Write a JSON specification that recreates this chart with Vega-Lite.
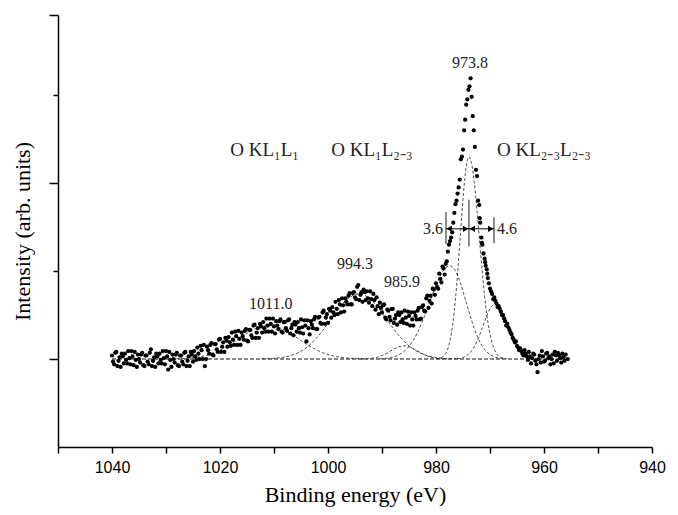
{
  "$schema": "https://vega.github.io/schema/vega-lite/v6.json",
  "width": 594,
  "height": 432,
  "autosize": {"type": "none"},
  "padding": {"left": 58, "top": 15, "right": 26, "bottom": 68},
  "background": "white",
  "config": {"view": {"stroke": null}},
  "datasets": {
    "pts": [
      {"e":1040.0,"v":0.04},{"e":1039.6,"v":-0.06},{"e":1039.2,"v":0.08},{"e":1038.8,"v":-0.02},{"e":1038.4,"v":-0.09},{"e":1038.0,"v":0.03},{"e":1037.6,"v":0.06},{"e":1037.2,"v":-0.05},{"e":1036.8,"v":0.01},{"e":1036.4,"v":0.09},{"e":1036.0,"v":-0.07},{"e":1035.6,"v":-0.01},{"e":1035.2,"v":0.05},{"e":1034.8,"v":-0.04},{"e":1034.4,"v":0.07},{"e":1034.0,"v":-0.08},{"e":1033.6,"v":0.04},{"e":1033.2,"v":-0.06},{"e":1032.8,"v":0.11},{"e":1032.4,"v":-0.02},{"e":1032.0,"v":-0.09},{"e":1031.6,"v":0.03},{"e":1031.2,"v":0.06},{"e":1030.8,"v":-0.05},{"e":1030.4,"v":0.01},{"e":1030.0,"v":0.09},{"e":1029.6,"v":-0.12},{"e":1029.2,"v":-0.01},{"e":1028.8,"v":0.05},{"e":1028.4,"v":-0.04},{"e":1028.0,"v":0.07},{"e":1027.6,"v":-0.08},{"e":1027.2,"v":0.04},{"e":1026.8,"v":-0.06},{"e":1026.4,"v":0.08},{"e":1026.0,"v":-0.02},{"e":1025.6,"v":-0.08},{"e":1025.2,"v":0.05},{"e":1024.8,"v":0.09},{"e":1024.4,"v":-0.01},{"e":1024.0,"v":0.06},{"e":1023.6,"v":0.15},{"e":1023.2,"v":0.0},{"e":1022.8,"v":-0.08},{"e":1022.4,"v":0.14},{"e":1022.0,"v":0.06},{"e":1021.6,"v":0.18},{"e":1021.2,"v":0.04},{"e":1020.8,"v":0.17},{"e":1020.4,"v":0.08},{"e":1020.0,"v":0.23},{"e":1019.6,"v":0.14},{"e":1019.2,"v":0.08},{"e":1018.8,"v":0.21},{"e":1018.4,"v":0.25},{"e":1018.0,"v":0.15},{"e":1017.6,"v":0.22},{"e":1017.2,"v":0.31},{"e":1016.8,"v":0.16},{"e":1016.4,"v":0.23},{"e":1016.0,"v":0.30},{"e":1015.6,"v":0.22},{"e":1015.2,"v":0.34},{"e":1014.8,"v":0.20},{"e":1014.4,"v":0.33},{"e":1014.0,"v":0.24},{"e":1013.6,"v":0.39},{"e":1013.2,"v":0.30},{"e":1012.8,"v":0.24},{"e":1012.4,"v":0.37},{"e":1012.0,"v":0.42},{"e":1011.6,"v":0.31},{"e":1011.2,"v":0.38},{"e":1010.8,"v":0.46},{"e":1010.4,"v":0.31},{"e":1010.0,"v":0.37},{"e":1009.6,"v":0.43},{"e":1009.2,"v":0.34},{"e":1008.8,"v":0.45},{"e":1008.4,"v":0.30},{"e":1008.0,"v":0.42},{"e":1007.6,"v":0.32},{"e":1007.2,"v":0.45},{"e":1006.8,"v":0.35},{"e":1006.4,"v":0.27},{"e":1006.0,"v":0.39},{"e":1005.6,"v":0.42},{"e":1005.2,"v":0.30},{"e":1004.8,"v":0.36},{"e":1004.4,"v":0.44},{"e":1004.0,"v":0.20},{"e":1003.6,"v":0.35},{"e":1003.2,"v":0.43},{"e":1002.8,"v":0.35},{"e":1002.4,"v":0.48},{"e":1002.0,"v":0.34},{"e":1001.6,"v":0.48},{"e":1001.2,"v":0.40},{"e":1000.8,"v":0.55},{"e":1000.4,"v":0.47},{"e":1000.0,"v":0.41},{"e":999.6,"v":0.55},{"e":999.2,"v":0.59},{"e":998.8,"v":0.50},{"e":998.4,"v":0.57},{"e":998.0,"v":0.67},{"e":997.6,"v":0.53},{"e":997.2,"v":0.61},{"e":996.8,"v":0.69},{"e":996.4,"v":0.62},{"e":996.0,"v":0.75},{"e":995.6,"v":0.62},{"e":995.2,"v":0.76},{"e":994.8,"v":0.68},{"e":994.4,"v":0.84},{"e":994.0,"v":0.73},{"e":993.6,"v":0.65},{"e":993.2,"v":0.76},{"e":992.8,"v":0.77},{"e":992.4,"v":0.64},{"e":992.0,"v":0.68},{"e":991.6,"v":0.74},{"e":991.2,"v":0.56},{"e":990.8,"v":0.60},{"e":990.4,"v":0.64},{"e":990.0,"v":0.53},{"e":989.6,"v":0.62},{"e":989.2,"v":0.45},{"e":988.8,"v":0.55},{"e":988.4,"v":0.44},{"e":988.0,"v":0.57},{"e":987.6,"v":0.46},{"e":987.2,"v":0.39},{"e":986.8,"v":0.50},{"e":986.4,"v":0.53},{"e":986.0,"v":0.41},{"e":985.6,"v":0.47},{"e":985.2,"v":0.54},{"e":984.8,"v":0.38},{"e":984.4,"v":0.45},{"e":984.0,"v":0.53},{"e":983.6,"v":0.45},{"e":983.2,"v":0.58},{"e":982.8,"v":0.46},{"e":982.4,"v":0.61},{"e":982.0,"v":0.54},{"e":981.6,"v":0.72},{"e":981.2,"v":0.66},{"e":980.8,"v":0.63},{"e":980.4,"v":0.79},{"e":980.0,"v":0.86},{"e":979.6,"v":0.80},{"e":979.2,"v":0.91},{"e":978.8,"v":1.05},{"e":978.4,"v":0.96},
      {"e":1039.8,"v":-0.03},{"e":1039.4,"v":0.07},{"e":1039.0,"v":-0.08},{"e":1038.6,"v":0.02},{"e":1038.2,"v":0.06},{"e":1037.8,"v":-0.05},{"e":1037.4,"v":-0.01},{"e":1037.0,"v":0.09},{"e":1036.6,"v":-0.06},{"e":1036.2,"v":0.03},{"e":1035.8,"v":0.08},{"e":1035.4,"v":-0.09},{"e":1035.0,"v":0.0},{"e":1034.6,"v":0.05},{"e":1034.2,"v":-0.07},{"e":1033.8,"v":0.04},{"e":1033.4,"v":-0.03},{"e":1033.0,"v":0.07},{"e":1032.6,"v":-0.08},{"e":1032.2,"v":0.02},{"e":1031.8,"v":0.06},{"e":1031.4,"v":-0.05},{"e":1031.0,"v":-0.01},{"e":1030.6,"v":0.09},{"e":1030.2,"v":-0.06},{"e":1029.8,"v":0.03},{"e":1029.4,"v":0.08},{"e":1029.0,"v":-0.09},{"e":1028.6,"v":0.0},{"e":1028.2,"v":0.05},{"e":1027.8,"v":-0.07},{"e":1027.4,"v":0.04},{"e":1027.0,"v":-0.03},{"e":1026.6,"v":0.07},{"e":1026.2,"v":-0.08},{"e":1025.8,"v":0.03},{"e":1025.4,"v":0.08},{"e":1025.0,"v":-0.03},{"e":1024.6,"v":0.03},{"e":1024.2,"v":0.13},{"e":1023.8,"v":0.0},{"e":1023.4,"v":0.10},{"e":1023.0,"v":0.16},{"e":1022.6,"v":0.0},{"e":1022.2,"v":0.10},{"e":1021.8,"v":0.16},{"e":1021.4,"v":0.05},{"e":1021.0,"v":0.17},{"e":1020.6,"v":0.11},{"e":1020.2,"v":0.22},{"e":1019.8,"v":0.08},{"e":1019.4,"v":0.19},{"e":1019.0,"v":0.24},{"e":1018.6,"v":0.14},{"e":1018.2,"v":0.19},{"e":1017.8,"v":0.30},{"e":1017.4,"v":0.16},{"e":1017.0,"v":0.26},{"e":1016.6,"v":0.32},{"e":1016.2,"v":0.16},{"e":1015.8,"v":0.26},{"e":1015.4,"v":0.32},{"e":1015.0,"v":0.21},{"e":1014.6,"v":0.33},{"e":1014.2,"v":0.27},{"e":1013.8,"v":0.38},{"e":1013.4,"v":0.24},{"e":1013.0,"v":0.35},{"e":1012.6,"v":0.40},{"e":1012.2,"v":0.30},{"e":1011.8,"v":0.35},{"e":1011.4,"v":0.46},{"e":1011.0,"v":0.31},{"e":1010.6,"v":0.40},{"e":1010.2,"v":0.46},{"e":1009.8,"v":0.29},{"e":1009.4,"v":0.38},{"e":1009.0,"v":0.43},{"e":1008.6,"v":0.31},{"e":1008.2,"v":0.42},{"e":1007.8,"v":0.35},{"e":1007.4,"v":0.44},{"e":1007.0,"v":0.29},{"e":1006.6,"v":0.39},{"e":1006.2,"v":0.42},{"e":1005.8,"v":0.31},{"e":1005.4,"v":0.35},{"e":1005.0,"v":0.45},{"e":1004.6,"v":0.29},{"e":1004.2,"v":0.38},{"e":1003.8,"v":0.44},{"e":1003.4,"v":0.28},{"e":1003.0,"v":0.39},{"e":1002.6,"v":0.45},{"e":1002.2,"v":0.34},{"e":1001.8,"v":0.47},{"e":1001.4,"v":0.41},{"e":1001.0,"v":0.53},{"e":1000.6,"v":0.40},{"e":1000.2,"v":0.51},{"e":999.8,"v":0.57},{"e":999.4,"v":0.47},{"e":999.0,"v":0.53},{"e":998.6,"v":0.65},{"e":998.2,"v":0.51},{"e":997.8,"v":0.62},{"e":997.4,"v":0.69},{"e":997.0,"v":0.54},{"e":996.6,"v":0.65},{"e":996.2,"v":0.72},{"e":995.8,"v":0.62},{"e":995.4,"v":0.75},{"e":995.0,"v":0.70},{"e":994.6,"v":0.82},{"e":994.2,"v":0.67},{"e":993.8,"v":0.76},{"e":993.4,"v":0.79},{"e":993.0,"v":0.67},{"e":992.6,"v":0.69},{"e":992.2,"v":0.77},{"e":991.8,"v":0.60},{"e":991.4,"v":0.67},{"e":991.0,"v":0.70},{"e":990.6,"v":0.51},{"e":990.2,"v":0.58},{"e":989.8,"v":0.61},{"e":989.4,"v":0.47},{"e":989.0,"v":0.56},{"e":988.6,"v":0.48},{"e":988.2,"v":0.57},{"e":987.8,"v":0.41},{"e":987.4,"v":0.50},{"e":987.0,"v":0.53},{"e":986.6,"v":0.42},{"e":986.2,"v":0.45},{"e":985.8,"v":0.55},{"e":985.4,"v":0.40},{"e":985.0,"v":0.49},{"e":984.6,"v":0.53},{"e":984.2,"v":0.38},{"e":983.8,"v":0.49},{"e":983.4,"v":0.55},{"e":983.0,"v":0.45},{"e":982.6,"v":0.59},{"e":982.2,"v":0.55},{"e":981.8,"v":0.69},{"e":981.4,"v":0.58},{"e":981.0,"v":0.72},{"e":980.6,"v":0.80},{"e":980.2,"v":0.73},{"e":979.8,"v":0.82},{"e":979.4,"v":0.97},{"e":979.0,"v":0.87},{"e":978.6,"v":1.03},
      {"e":978.2,"v":1.08},{"e":978.0,"v":1.11},{"e":977.8,"v":1.22},{"e":977.6,"v":1.30},{"e":977.4,"v":1.34},{"e":977.2,"v":1.38},{"e":977.0,"v":1.44},{"e":976.8,"v":1.55},{"e":976.6,"v":1.66},{"e":976.4,"v":1.76},{"e":976.2,"v":1.80},{"e":976.0,"v":1.88},{"e":975.8,"v":1.95},{"e":975.6,"v":2.04},{"e":975.4,"v":2.27},{"e":975.2,"v":2.30},{"e":975.0,"v":2.38},{"e":974.8,"v":2.60},{"e":974.6,"v":2.72},{"e":974.4,"v":2.89},{"e":974.2,"v":2.95},{"e":974.0,"v":3.06},{"e":973.8,"v":3.10},{"e":973.6,"v":3.19},{"e":973.4,"v":2.98},{"e":973.2,"v":2.76},{"e":973.0,"v":2.60},{"e":972.8,"v":2.41},{"e":972.6,"v":2.15},{"e":972.4,"v":2.08},{"e":972.2,"v":1.80},{"e":972.0,"v":1.75},{"e":971.8,"v":1.55},{"e":971.6,"v":1.38},{"e":971.4,"v":1.30},{"e":971.2,"v":1.20},{"e":971.0,"v":1.14},{"e":970.8,"v":1.06},{"e":970.6,"v":1.02},{"e":970.4,"v":0.92},{"e":970.2,"v":0.86},{"e":970.0,"v":0.80},
      {"e":971.9,"v":1.60},{"e":971.5,"v":1.32},{"e":970.9,"v":1.10},{"e":970.5,"v":0.97},{"e":969.8,"v":0.77},{"e":969.4,"v":0.68},{"e":969.0,"v":0.66},{"e":968.6,"v":0.59},{"e":968.2,"v":0.57},{"e":967.8,"v":0.50},{"e":967.4,"v":0.46},{"e":967.0,"v":0.38},{"e":966.6,"v":0.36},{"e":966.2,"v":0.30},{"e":965.8,"v":0.24},{"e":965.4,"v":0.19},{"e":965.0,"v":0.15},{"e":964.6,"v":0.10},{"e":964.2,"v":0.09},{"e":963.8,"v":0.04},{"e":963.4,"v":0.06},{"e":963.0,"v":-0.01},{"e":962.6,"v":0.03},{"e":962.2,"v":0.01},{"e":961.8,"v":0.05},{"e":961.4,"v":-0.06},{"e":961.0,"v":0.0},{"e":960.6,"v":-0.04},{"e":960.2,"v":0.03},{"e":959.8,"v":-0.02},{"e":959.4,"v":0.07},{"e":959.0,"v":0.03},{"e":958.6,"v":0.0},{"e":958.2,"v":-0.05},{"e":957.8,"v":0.04},{"e":957.4,"v":0.07},{"e":957.0,"v":0.01},{"e":956.6,"v":0.06},{"e":956.2,"v":-0.02},
      {"e":969.6,"v":0.74},{"e":969.2,"v":0.70},{"e":968.8,"v":0.63},{"e":968.4,"v":0.60},{"e":968.0,"v":0.54},{"e":967.6,"v":0.50},{"e":967.2,"v":0.43},{"e":966.8,"v":0.40},{"e":966.4,"v":0.33},{"e":966.0,"v":0.28},{"e":965.6,"v":0.22},{"e":965.2,"v":0.20},{"e":964.8,"v":0.13},{"e":964.4,"v":0.12},{"e":964.0,"v":0.06},{"e":963.6,"v":0.10},{"e":963.2,"v":0.03},{"e":962.8,"v":0.08},{"e":962.4,"v":-0.05},{"e":962.0,"v":0.06},{"e":961.6,"v":-0.02},{"e":961.2,"v":-0.15},{"e":960.8,"v":0.04},{"e":960.4,"v":0.09},{"e":960.0,"v":-0.03},{"e":959.6,"v":0.06},{"e":959.2,"v":0.01},{"e":958.8,"v":-0.06},{"e":958.4,"v":0.05},{"e":958.0,"v":0.08},{"e":957.6,"v":-0.02},{"e":957.2,"v":0.04},{"e":956.8,"v":-0.04},{"e":956.4,"v":0.02},{"e":956.0,"v":0.05},{"e":955.6,"v":0.0}
    ],
    "comp": [
      {"c":"base","e":1040,"v":0},{"c":"base","e":956,"v":0},
      {"c":"A","e":1029,"v":0.002},{"c":"A","e":1028,"v":0.003},{"c":"A","e":1027,"v":0.0055},{"c":"A","e":1026,"v":0.009},{"c":"A","e":1025,"v":0.015},{"c":"A","e":1024,"v":0.023},{"c":"A","e":1023,"v":0.035},{"c":"A","e":1022,"v":0.051},{"c":"A","e":1021,"v":0.073},{"c":"A","e":1020,"v":0.1},{"c":"A","e":1019,"v":0.132},{"c":"A","e":1018,"v":0.169},{"c":"A","e":1017,"v":0.21},{"c":"A","e":1016,"v":0.251},{"c":"A","e":1015,"v":0.292},{"c":"A","e":1014,"v":0.327},{"c":"A","e":1013,"v":0.356},{"c":"A","e":1012,"v":0.374},{"c":"A","e":1011,"v":0.38},{"c":"A","e":1010,"v":0.374},{"c":"A","e":1009,"v":0.356},{"c":"A","e":1008,"v":0.327},{"c":"A","e":1007,"v":0.292},{"c":"A","e":1006,"v":0.251},{"c":"A","e":1005,"v":0.21},{"c":"A","e":1004,"v":0.169},{"c":"A","e":1003,"v":0.132},{"c":"A","e":1002,"v":0.1},{"c":"A","e":1001,"v":0.073},{"c":"A","e":1000,"v":0.051},{"c":"A","e":999,"v":0.035},{"c":"A","e":998,"v":0.023},{"c":"A","e":997,"v":0.015},{"c":"A","e":996,"v":0.009},{"c":"A","e":995,"v":0.0055},{"c":"A","e":994,"v":0.003},{"c":"A","e":993,"v":0.002},
      {"c":"B","e":1012.3,"v":0.002},{"c":"B","e":1011.3,"v":0.004},{"c":"B","e":1010.3,"v":0.0065},{"c":"B","e":1009.3,"v":0.012},{"c":"B","e":1008.3,"v":0.02},{"c":"B","e":1007.3,"v":0.032},{"c":"B","e":1006.3,"v":0.052},{"c":"B","e":1005.3,"v":0.079},{"c":"B","e":1004.3,"v":0.116},{"c":"B","e":1003.3,"v":0.165},{"c":"B","e":1002.3,"v":0.227},{"c":"B","e":1001.3,"v":0.299},{"c":"B","e":1000.3,"v":0.38},{"c":"B","e":999.3,"v":0.466},{"c":"B","e":998.3,"v":0.55},{"c":"B","e":997.3,"v":0.627},{"c":"B","e":996.3,"v":0.687},{"c":"B","e":995.3,"v":0.726},{"c":"B","e":994.3,"v":0.74},{"c":"B","e":993.3,"v":0.726},{"c":"B","e":992.3,"v":0.687},{"c":"B","e":991.3,"v":0.627},{"c":"B","e":990.3,"v":0.55},{"c":"B","e":989.3,"v":0.466},{"c":"B","e":988.3,"v":0.38},{"c":"B","e":987.3,"v":0.299},{"c":"B","e":986.3,"v":0.227},{"c":"B","e":985.3,"v":0.165},{"c":"B","e":984.3,"v":0.116},{"c":"B","e":983.3,"v":0.079},{"c":"B","e":982.3,"v":0.052},{"c":"B","e":981.3,"v":0.032},{"c":"B","e":980.3,"v":0.02},{"c":"B","e":979.3,"v":0.012},{"c":"B","e":978.3,"v":0.0065},{"c":"B","e":977.3,"v":0.004},{"c":"B","e":976.3,"v":0.002},
      {"c":"F","e":993.9,"v":0.001},{"c":"F","e":992.9,"v":0.003},{"c":"F","e":991.9,"v":0.008},{"c":"F","e":990.9,"v":0.02},{"c":"F","e":989.9,"v":0.042},{"c":"F","e":988.9,"v":0.073},{"c":"F","e":987.9,"v":0.109},{"c":"F","e":986.9,"v":0.138},{"c":"F","e":985.9,"v":0.15},{"c":"F","e":984.9,"v":0.138},{"c":"F","e":983.9,"v":0.109},{"c":"F","e":982.9,"v":0.073},{"c":"F","e":981.9,"v":0.042},{"c":"F","e":980.9,"v":0.02},{"c":"F","e":979.9,"v":0.008},{"c":"F","e":978.9,"v":0.003},{"c":"F","e":977.9,"v":0.001},
      {"c":"C","e":990.4,"v":0.003},{"c":"C","e":989.4,"v":0.007},{"c":"C","e":988.4,"v":0.016},{"c":"C","e":987.4,"v":0.033},{"c":"C","e":986.4,"v":0.064},{"c":"C","e":985.4,"v":0.116},{"c":"C","e":984.4,"v":0.194},{"c":"C","e":983.4,"v":0.305},{"c":"C","e":982.4,"v":0.446},{"c":"C","e":981.4,"v":0.609},{"c":"C","e":980.4,"v":0.776},{"c":"C","e":979.4,"v":0.923},{"c":"C","e":978.4,"v":1.024},{"c":"C","e":977.4,"v":1.06},{"c":"C","e":976.4,"v":1.003},{"c":"C","e":975.4,"v":0.849},{"c":"C","e":974.4,"v":0.643},{"c":"C","e":973.4,"v":0.436},{"c":"C","e":972.4,"v":0.264},{"c":"C","e":971.4,"v":0.143},{"c":"C","e":970.4,"v":0.07},{"c":"C","e":969.4,"v":0.03},{"c":"C","e":968.4,"v":0.012},{"c":"C","e":967.4,"v":0.004},
      {"c":"D","e":979.9,"v":0.002},{"c":"D","e":979.4,"v":0.006},{"c":"D","e":978.9,"v":0.017},{"c":"D","e":978.4,"v":0.044},{"c":"D","e":977.9,"v":0.101},{"c":"D","e":977.4,"v":0.21},{"c":"D","e":976.9,"v":0.397},{"c":"D","e":976.4,"v":0.679},{"c":"D","e":975.9,"v":1.053},{"c":"D","e":975.4,"v":1.482},{"c":"D","e":974.9,"v":1.892},{"c":"D","e":974.4,"v":2.19},{"c":"D","e":973.9,"v":2.3},{"c":"D","e":973.4,"v":2.222},{"c":"D","e":972.9,"v":2.003},{"c":"D","e":972.4,"v":1.684},{"c":"D","e":971.9,"v":1.322},{"c":"D","e":971.4,"v":0.968},{"c":"D","e":970.9,"v":0.661},{"c":"D","e":970.4,"v":0.422},{"c":"D","e":969.9,"v":0.251},{"c":"D","e":969.4,"v":0.139},{"c":"D","e":968.9,"v":0.072},{"c":"D","e":968.4,"v":0.035},{"c":"D","e":967.9,"v":0.016},{"c":"D","e":967.4,"v":0.007},{"c":"D","e":966.9,"v":0.003},
      {"c":"E","e":976.1,"v":0.004},{"c":"E","e":975.1,"v":0.015},{"c":"E","e":974.1,"v":0.047},{"c":"E","e":973.1,"v":0.119},{"c":"E","e":972.6,"v":0.175},{"c":"E","e":972.1,"v":0.245},{"c":"E","e":971.6,"v":0.325},{"c":"E","e":971.1,"v":0.41},{"c":"E","e":970.6,"v":0.491},{"c":"E","e":970.1,"v":0.559},{"c":"E","e":969.6,"v":0.604},{"c":"E","e":969.1,"v":0.62},{"c":"E","e":968.1,"v":0.572},{"c":"E","e":967.1,"v":0.45},{"c":"E","e":966.1,"v":0.302},{"c":"E","e":965.1,"v":0.172},{"c":"E","e":964.1,"v":0.084},{"c":"E","e":963.1,"v":0.035},{"c":"E","e":962.1,"v":0.012},{"c":"E","e":961.1,"v":0.004}
    ],
    "bars": [
      {"e":978.15,"v":1.31,"v2":1.67},{"e":973.9,"v":1.28,"v2":1.81},{"e":969.26,"v":1.32,"v2":1.61}
    ],
    "hline": [{"e":978.15,"e2":969.26,"v":1.48}],
    "arrL": [{"e":977.55,"v":1.48},{"e":973.3,"v":1.48}],
    "arrR": [{"e":974.5,"v":1.48},{"e":969.86,"v":1.48}],
    "nums": [
      {"e":973.7,"v":3.36,"t":"973.8"},{"e":995.0,"v":1.08,"t":"994.3"},{"e":986.3,"v":0.875,"t":"985.9"},{"e":1010.6,"v":0.625,"t":"1011.0"}
    ],
    "kl": [
      {"e":1018.1,"v":2.307,"t":"O KL₁L₁"},{"e":999.4,"v":2.307,"t":"O KL₁L₂₋₃"},{"e":968.7,"v":2.307,"t":"O KL₂₋₃L₂₋₃"}
    ],
    "w36": [{"e":978.7,"v":1.48,"t":"3.6"}],
    "w46": [{"e":968.7,"v":1.48,"t":"4.6"}]
  },
  "encoding": {
    "x": {
      "field": "e", "type": "quantitative",
      "scale": {"domain": [940, 1050], "reverse": true, "nice": false, "zero": false},
      "axis": {
        "values": [1050, 1040, 1030, 1020, 1010, 1000, 990, 980, 970, 960, 950, 940],
        "labelExpr": "datum.value % 20 == 0 ? datum.label : ''",
        "format": "d",
        "grid": false,
        "domainColor": "black", "domainWidth": 1.5,
        "tickColor": "black", "tickWidth": 1.5, "tickSize": 6,
        "labelFont": "Liberation Sans", "labelFontSize": 16, "labelColor": "black",
        "labelPadding": 6, "labelFlush": false, "labelOverlap": false,
        "title": "Binding energy (eV)",
        "titleFont": "Liberation Serif", "titleFontSize": 22, "titleFontWeight": "normal",
        "titleColor": "black", "titlePadding": 9
      }
    },
    "y": {
      "field": "v", "type": "quantitative",
      "scale": {"domain": [-1, 3.91], "nice": false, "zero": false},
      "axis": {
        "values": [0, 1, 2, 3, 3.91],
        "labels": false,
        "grid": false,
        "domainColor": "black", "domainWidth": 1.5,
        "tickColor": "black", "tickWidth": 1.5,
        "tickSize": {"condition": {"test": "datum.value == 1 || datum.value == 3", "value": 5}, "value": 9},
        "title": "Intensity (arb. units)",
        "titleFont": "Liberation Serif", "titleFontSize": 22, "titleFontWeight": "normal",
        "titleColor": "black", "titlePadding": 14
      }
    }
  },
  "layer": [
    {
      "data": {"name": "comp"},
      "transform": [{"filter": "datum.c != 'base'"}],
      "mark": {"type": "line", "interpolate": "monotone", "color": "#222", "strokeWidth": 0.8, "strokeDash": [3, 2]},
      "encoding": {"detail": {"field": "c", "type": "nominal"}}
    },
    {
      "data": {"name": "comp"},
      "transform": [{"filter": "datum.c == 'base'"}],
      "mark": {"type": "line", "color": "#111", "strokeWidth": 1.1, "strokeDash": [4, 2]},
      "encoding": {}
    },
    {
      "data": {"name": "pts"},
      "mark": {"type": "circle", "color": "black", "opacity": 1, "size": 18}
    },
    {
      "data": {"name": "bars"},
      "mark": {"type": "rule", "color": "#666", "strokeWidth": 1.5},
      "encoding": {"y2": {"field": "v2"}}
    },
    {
      "data": {"name": "hline"},
      "mark": {"type": "rule", "color": "black", "strokeWidth": 1},
      "encoding": {"x2": {"field": "e2"}}
    },
    {
      "data": {"name": "arrL"},
      "mark": {"type": "point", "shape": "triangle-left", "filled": true, "color": "black", "opacity": 1, "size": 40}
    },
    {
      "data": {"name": "arrR"},
      "mark": {"type": "point", "shape": "triangle-right", "filled": true, "color": "black", "opacity": 1, "size": 40}
    },
    {
      "data": {"name": "nums"},
      "mark": {"type": "text", "font": "Liberation Serif", "fontSize": 16, "color": "#222", "align": "center", "baseline": "middle"},
      "encoding": {"text": {"field": "t"}}
    },
    {
      "data": {"name": "kl"},
      "mark": {"type": "text", "font": "Liberation Serif", "fontSize": 19, "color": "#222", "align": "left", "baseline": "alphabetic"},
      "encoding": {"text": {"field": "t"}}
    },
    {
      "data": {"name": "w36"},
      "mark": {"type": "text", "font": "Liberation Serif", "fontSize": 16, "color": "#222", "align": "right", "baseline": "middle"},
      "encoding": {"text": {"field": "t"}}
    },
    {
      "data": {"name": "w46"},
      "mark": {"type": "text", "font": "Liberation Serif", "fontSize": 16, "color": "#222", "align": "left", "baseline": "middle"},
      "encoding": {"text": {"field": "t"}}
    }
  ]
}
